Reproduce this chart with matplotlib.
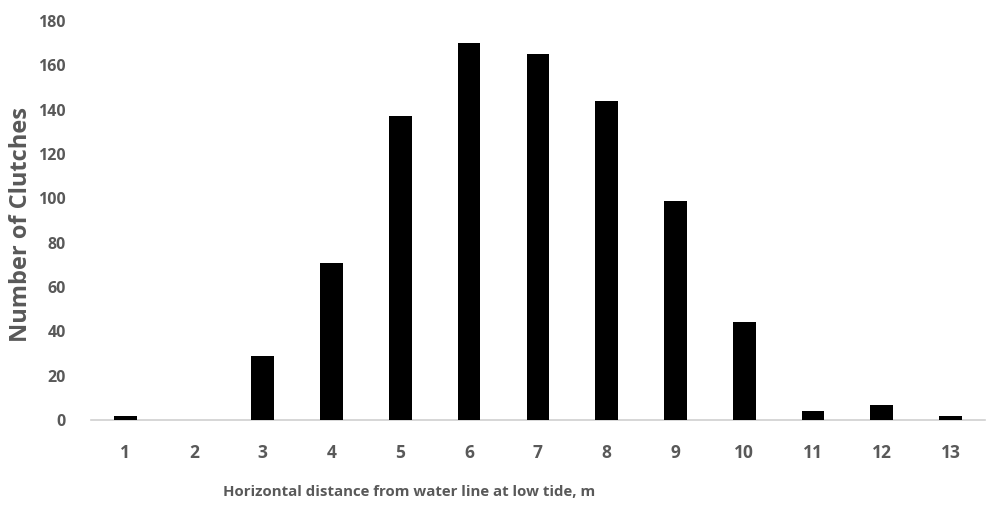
import numpy as np
import matplotlib.pyplot as plt

# odleglosc od linii wody (m) i liczba skupisk jaj
odleglosc = [1, 2, 3, 4, 5, 6, 7, 8, 9, 10, 11, 12, 13]
liczba = [2, 0, 29, 71, 137, 170, 165, 144, 99, 44, 4, 7, 2]

plt.rcParams['font.family'] = ['Open Sans', 'DejaVu Sans']
szary = '#595959'

fig = plt.figure(figsize=(9.87, 5.11), dpi=100)
ax = fig.add_axes([0.092, 0.178, 0.906, 0.781])

ax.bar(odleglosc, liczba, width=0.33, color='black', zorder=3)

ax.set_xlim(0.5, 13.5)
ax.set_ylim(0, 180)
ax.set_yticks(np.arange(0, 181, 20))
ax.set_xticks(odleglosc)

for s in ['top', 'right', 'left']:
    ax.spines[s].set_visible(False)
ax.spines['bottom'].set_color('#d0d0d0')
ax.spines['bottom'].set_linewidth(1.2)
ax.tick_params(axis='y', length=0, labelsize=11.5, labelcolor=szary, pad=18)
ax.tick_params(axis='x', length=0, labelsize=12.5, labelcolor=szary, pad=17)
for lab in ax.get_xticklabels() + ax.get_yticklabels():
    lab.set_fontweight('bold')

fig.text(0.021, 0.56, 'Number of Clutches', rotation=90, ha='center', va='center',
         fontsize=17, fontweight='bold', color=szary)
fig.text(0.415, 0.037, 'Horizontal distance from water line at low tide, m',
         ha='center', va='center', fontsize=10.8, fontweight='bold', color=szary)

fig.savefig('out.png', dpi=100)
